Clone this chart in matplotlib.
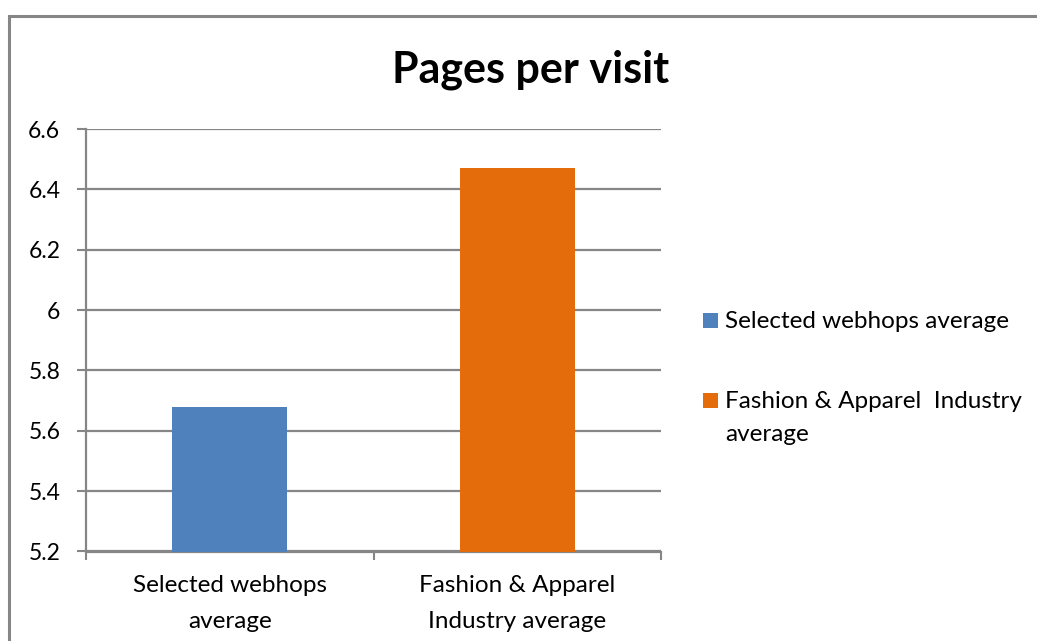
import matplotlib.pyplot as plt
from matplotlib.patches import Rectangle

categories = ["Selected webhops\naverage", "Fashion & Apparel\nIndustry average"]
series_names = ["Selected webhops average", "Fashion & Apparel  Industry\naverage"]
values = [5.68, 6.47]
colors = ["#4F81BD", "#E46C0A"]
yticks = [5.2, 5.4, 5.6, 5.8, 6.0, 6.2, 6.4, 6.6]
ytick_labels = ["5.2", "5.4", "5.6", "5.8", "6", "6.2", "6.4", "6.6"]

plt.rcParams['font.family'] = ['Lato', 'DejaVu Sans']
grey = "#868686"
fs = 17.5
W, H = 1037, 641

fig = plt.figure(figsize=(W / 100, H / 100), dpi=100)
ax = fig.add_axes([86 / W, 1 - 551.5 / H, 575 / W, 422.5 / H])

x = list(range(len(values)))
bars = ax.bar(x, values, width=0.4, color=colors, zorder=3)

ax.set_xlim(-0.5, 1.5)
ax.set_ylim(5.2, 6.6)
ax.set_yticks(yticks)
ax.set_yticklabels(ytick_labels, fontsize=16.5)
ax.set_xticks(x)
ax.set_xticklabels(categories, fontsize=fs, linespacing=1.87)
ax.set_xticks([-0.5, 0.5, 1.5], minor=True)
ax.tick_params(axis='x', which='major', length=0, pad=17)
ax.tick_params(axis='x', which='minor', length=6, width=1.5, color=grey)
ax.tick_params(axis='y', length=6.5, width=1.5, color=grey, pad=12)
ax.yaxis.grid(True, color=grey, linewidth=1.6, zorder=0)
ax.set_axisbelow(True)
for side in ["top", "right"]:
    ax.spines[side].set_visible(False)
for side in ["left", "bottom"]:
    ax.spines[side].set_color(grey)
    ax.spines[side].set_linewidth(1.6)

fig.text(531 / W, 1 - 82 / H, "Pages per visit", fontsize=31,
         fontweight="bold", ha="center", va="baseline")

# legend: colour square with its label, first line level with the square
legend_y = [320, 400]
for name, col, ly in zip(series_names, colors, legend_y):
    fig.patches.append(Rectangle((703 / W, 1 - (ly + 7.5) / H), 15 / W, 15 / H,
                                 transform=fig.transFigure, facecolor=col,
                                 edgecolor="none"))
    fig.text(725 / W, 1 - (ly - 9) / H, name, fontsize=fs, ha="left", va="top",
             linespacing=1.7)

# outer chart border, running off the right and bottom edges
fig.patches.append(Rectangle((9 / W, -0.05), 1.1, 1 - 16 / H + 0.05,
                             transform=fig.transFigure, fill=False,
                             edgecolor=grey, linewidth=2.2))

fig.savefig("out.png", dpi=100)
